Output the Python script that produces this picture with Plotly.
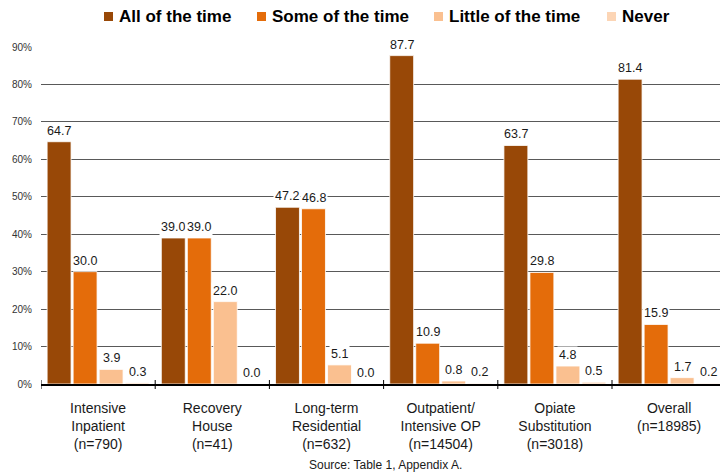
import plotly.graph_objects as go

# Program types and sample sizes
programs = ["Intensive<br>Inpatient", "Recovery<br>House", "Long-term<br>Residential",
            "Outpatient/<br>Intensive OP", "Opiate<br>Substitution", "Overall"]
sample_n = [790, 41, 632, 14504, 3018, 18985]

# Percent of clients in each response category
series_names = ["All of the time", "Some of the time", "Little of the time", "Never"]
all_of_time = [64.7, 39.0, 47.2, 87.7, 63.7, 81.4]
some_of_time = [30.0, 39.0, 46.8, 10.9, 29.8, 15.9]
little_of_time = [3.9, 22.0, 5.1, 0.8, 4.8, 1.7]
never = [0.3, 0.0, 0.0, 0.2, 0.5, 0.2]

colors = ["#984807", "#E46C0A", "#FAC090", "#FCD5B5"]
y_ticks = [0, 10, 20, 30, 40, 50, 60, 70, 80, 90]

FONT = "Liberation Sans, Arial, sans-serif"
W, H = 720, 476
ML, MR, MT, MB = 41, 0, 47, 92
PW, PH = W - ML - MR, H - MT - MB
GROUP_PX = 114.2
BARGAP = 0.089

tick_text = [f"{p}<br>(n={n})" for p, n in zip(programs, sample_n)]
x_idx = list(range(len(programs)))
all_series = [all_of_time, some_of_time, little_of_time, never]

fig = go.Figure()
for name, vals, col in zip(series_names, all_series, colors):
    fig.add_trace(go.Bar(
        x=x_idx, y=vals, name=name,
        marker=dict(color=col, line=dict(color="#FFFFFF", width=0.8)),
        showlegend=False,
    ))

# Value labels above each bar, on a white box
slot = (1 - BARGAP) / len(all_series)
annotations = []
for i, vals in enumerate(all_series):
    for j, v in enumerate(vals):
        annotations.append(dict(
            x=j + (i - 1.5) * slot, y=v, xref="x", yref="y",
            text=f"{v:.1f}", showarrow=False, yanchor="bottom", yshift=2,
            bgcolor="#FFFFFF", borderpad=1,
            font=dict(family=FONT, size=12.5, color="#1a1a1a"),
        ))

# Legend row across the top
def px_to_paper_x(px):
    return (px - ML) / PW

def py_to_paper_y(py):
    return (H - MB - py) / PH

legend_square_x = [104, 257, 434, 607]
legend_text_x = [117, 270, 447, 620]
legend_cy = 16.5
shapes = []
for sx, tx, name, col in zip(legend_square_x, legend_text_x, series_names, colors):
    shapes.append(dict(
        type="rect", xref="paper", yref="paper",
        x0=px_to_paper_x(sx), x1=px_to_paper_x(sx + 9),
        y0=py_to_paper_y(legend_cy + 4.5), y1=py_to_paper_y(legend_cy - 4.5),
        fillcolor=col, line=dict(width=0),
    ))
    annotations.append(dict(
        x=px_to_paper_x(tx), y=py_to_paper_y(legend_cy), xref="paper", yref="paper",
        text=f"<b>{name}</b>", showarrow=False, xanchor="left", yanchor="middle",
        font=dict(family=FONT, size=17, color="#000000"),
    ))

annotations.append(dict(
    x=px_to_paper_x(385), y=py_to_paper_y(465), xref="paper", yref="paper",
    text="Source: Table 1, Appendix A.", showarrow=False,
    xanchor="center", yanchor="middle",
    font=dict(family=FONT, size=12, color="#1a1a1a"),
))

# Boundary tick marks between program groups
for b in range(len(programs)):
    shapes.append(dict(
        type="line", xref="x", yref="paper",
        x0=b - 0.5, x1=b - 0.5, y0=-5 / PH, y1=4 / PH,
        line=dict(color="#000000", width=1),
    ))

fig.update_layout(
    width=W, height=H,
    margin=dict(l=ML, r=MR, t=MT, b=MB, pad=0),
    paper_bgcolor="#FFFFFF", plot_bgcolor="#FFFFFF",
    barmode="group", bargap=BARGAP, bargroupgap=0.08,
    showlegend=False,
    annotations=annotations, shapes=shapes,
    font=dict(family=FONT, color="#1a1a1a"),
)
fig.update_xaxes(
    type="linear",
    range=[-0.5, -0.5 + PW / GROUP_PX],
    tickmode="array", tickvals=x_idx, ticktext=tick_text,
    ticks="", showgrid=False, zeroline=False,
    showline=True, linecolor="#000000", linewidth=1.5,
    tickfont=dict(family=FONT, size=14, color="#1a1a1a"),
    ticklabelstandoff=10,
)
fig.update_yaxes(
    range=[0, 90], tickmode="array", tickvals=y_ticks,
    ticktext=[f"{t}%" for t in y_ticks],
    showgrid=True, gridcolor="#595959", gridwidth=1,
    zeroline=False, showline=False, ticks="",
    tickfont=dict(family=FONT, size=10, color="#333333"),
    ticklabelstandoff=8,
)

fig.write_html("out.html")
